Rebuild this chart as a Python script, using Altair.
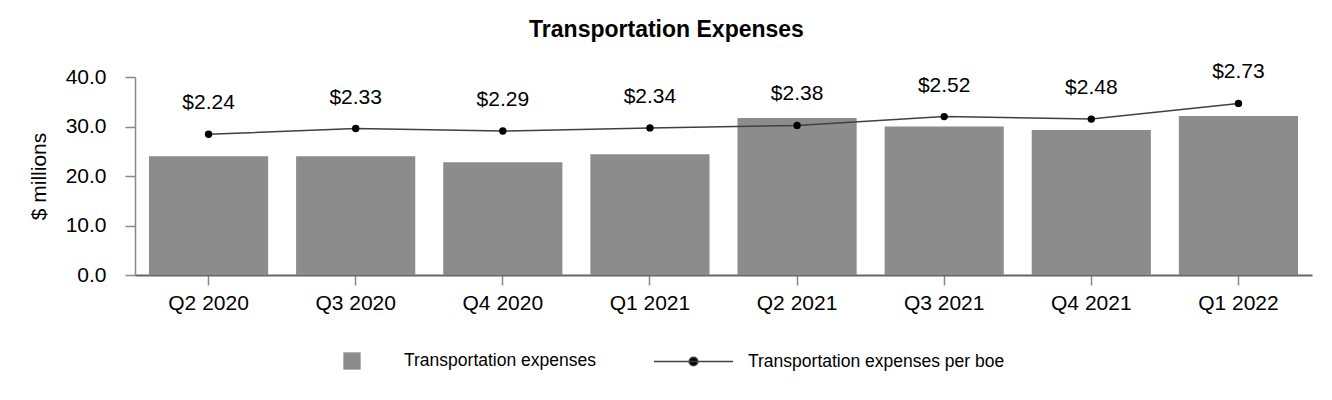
import altair as alt
import pandas as pd

quarters = ["Q2 2020", "Q3 2020", "Q4 2020", "Q1 2021", "Q2 2021", "Q3 2021", "Q4 2021", "Q1 2022"]
expenses = [24.0, 24.0, 22.8, 24.4, 31.7, 30.0, 29.3, 32.1]
per_boe = [2.24, 2.33, 2.29, 2.34, 2.38, 2.52, 2.48, 2.73]
per_boe_labels = ["$2.24", "$2.33", "$2.29", "$2.34", "$2.38", "$2.52", "$2.48", "$2.73"]

df = pd.DataFrame({
    "quarter": quarters,
    "expenses": expenses,
    "per_boe": per_boe,
    "label": per_boe_labels,
    "s1": ["Transportation expenses"] * len(quarters),
    "s2": ["Transportation expenses per boe"] * len(quarters),
})

FONT = "Liberation Sans"

x = alt.X("quarter:N", sort=quarters, title=None,
          scale=alt.Scale(paddingInner=0.19, paddingOuter=0.095),
          axis=alt.Axis(labelAngle=0, labelFontSize=21, labelColor="#000000", labelFont=FONT,
                        domainColor="#666666", domainWidth=2, tickColor="#888888", tickSize=10,
                        tickWidth=1.5, labelPadding=7))

bars = alt.Chart(df).mark_bar(color="#8c8c8c").encode(
    x=x,
    y=alt.Y("expenses:Q", title="$ millions",
            scale=alt.Scale(domain=[0, 40]),
            axis=alt.Axis(values=[0, 10, 20, 30, 40], format=".1f", grid=False,
                          labelFontSize=21, labelColor="#000000", labelFont=FONT,
                          titleFontSize=21, titleFont=FONT, titleFontWeight="normal",
                          titleColor="#000000", titlePadding=16,
                          domainColor="#888888", domainWidth=1.5, tickColor="#888888",
                          tickSize=10, tickWidth=1.5, labelPadding=19)),
    fill=alt.Fill("s1:N", scale=alt.Scale(range=["#8c8c8c"]),
                  legend=alt.Legend(title=None, orient="none", legendX=208, legendY=275,
                                    symbolType="square", symbolSize=300, symbolStrokeWidth=0,
                                    labelFontSize=17.5, labelFont=FONT, labelColor="#000000",
                                    labelOffset=43, labelLimit=400, padding=0)),
)

yb = alt.Y("per_boe:Q", scale=alt.Scale(domain=[0, 3.15]), axis=None)

line = alt.Chart(df).mark_line(strokeWidth=1.5).encode(
    x=alt.X("quarter:N", sort=quarters),
    y=yb,
    stroke=alt.Stroke("s2:N", scale=alt.Scale(range=["#404040"]),
                      legend=alt.Legend(title=None, orient="none", legendX=518, legendY=244,
                                        symbolType="M-1,0H1M-0.11,0A0.11,0.11 0 1,0 0.11,0A0.11,0.11 0 1,0 -0.11,0Z",
                                        symbolSize=6241, symbolStrokeWidth=1.5,
                                        symbolFillColor="#000000",
                                        labelFontSize=17.5, labelFont=FONT, labelColor="#000000",
                                        labelOffset=14, labelLimit=400, padding=0)),
)

points = alt.Chart(df).mark_circle(size=55, color="#000000", opacity=1).encode(
    x=alt.X("quarter:N", sort=quarters),
    y=yb,
)

labels = alt.Chart(df).mark_text(dy=-31, fontSize=21, font=FONT, color="#000000").encode(
    x=alt.X("quarter:N", sort=quarters),
    y=yb,
    text="label:N",
)

right = alt.layer(line, points, labels)

chart = alt.layer(bars, right).resolve_scale(y="independent", fill="independent", stroke="independent").properties(
    width=1177,
    height=198,
    autosize=alt.AutoSizeParams(type="none"),
    padding={"left": 127, "top": 69, "right": 12, "bottom": 115},
    title=alt.Title("Transportation Expenses", fontSize=23, font=FONT, fontWeight="bold",
                    color="#000000", anchor="middle", dx=-57, offset=19),
).configure_view(stroke=None)

chart.save("out.html", embed_options={"renderer": "svg", "actions": False})
